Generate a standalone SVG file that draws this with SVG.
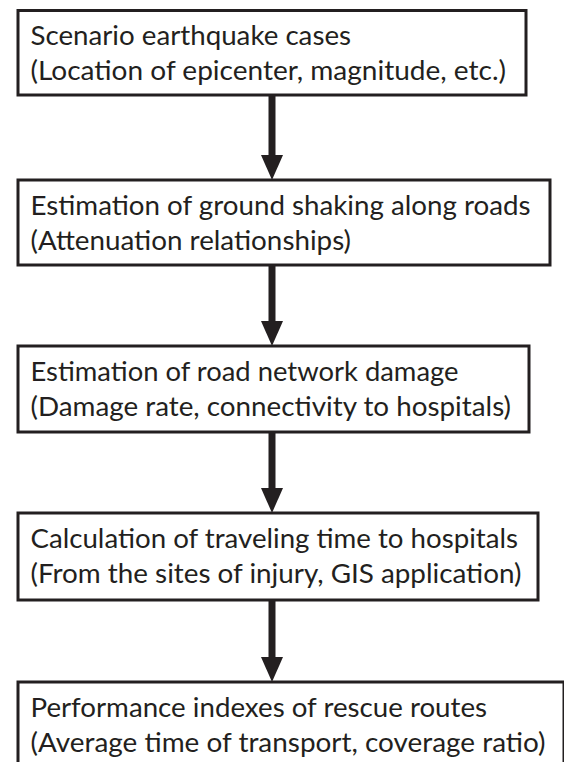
<svg xmlns="http://www.w3.org/2000/svg" width="564" height="762" viewBox="0 0 564 762">
<style>
.box{fill:#fff;stroke:#231f20;stroke-width:3}
.t{font-family:Lato,"Open Sans","Liberation Sans",sans-serif;font-size:26.5px;fill:#231f20}
.shaft{stroke:#231f20;stroke-width:7;fill:none}
.head{fill:#231f20}
</style>
<rect width="564" height="762" fill="#fff"/>
<g id="n1">
<rect class="box" x="18" y="10.5" width="508" height="84.5"/>
<text class="t" x="30.5" y="45" textLength="320.5" lengthAdjust="spacingAndGlyphs">Scenario earthquake cases</text>
<text class="t" x="30.5" y="80" textLength="475.5" lengthAdjust="spacingAndGlyphs">(Location of epicenter, magnitude, etc.)</text>
</g>
<g id="n2">
<rect class="box" x="18" y="180" width="532" height="85"/>
<text class="t" x="30.5" y="215" textLength="500" lengthAdjust="spacingAndGlyphs">Estimation of ground shaking along roads</text>
<text class="t" x="30.5" y="250" textLength="320.5" lengthAdjust="spacingAndGlyphs">(Attenuation relationships)</text>
</g>
<g id="n3">
<rect class="box" x="18" y="346" width="511" height="86"/>
<text class="t" x="30.5" y="381" textLength="428" lengthAdjust="spacingAndGlyphs">Estimation of road network damage</text>
<text class="t" x="30.5" y="416" textLength="480.5" lengthAdjust="spacingAndGlyphs">(Damage rate, connectivity to hospitals)</text>
</g>
<g id="n4">
<rect class="box" x="18" y="513" width="520" height="87"/>
<text class="t" x="30.5" y="548" textLength="487.5" lengthAdjust="spacingAndGlyphs">Calculation of traveling time to hospitals</text>
<text class="t" x="30.5" y="583" textLength="491" lengthAdjust="spacingAndGlyphs">(From the sites of injury, GIS application)</text>
</g>
<g id="n5">
<rect class="box" x="18" y="682" width="546" height="100"/>
<text class="t" x="30.5" y="717" textLength="456.5" lengthAdjust="spacingAndGlyphs">Performance indexes of rescue routes</text>
<text class="t" x="30.5" y="752" textLength="515" lengthAdjust="spacingAndGlyphs">(Average time of transport, coverage ratio)</text>
</g>
<g id="connectors">
<line class="shaft" x1="272" y1="95" x2="272" y2="157"/>
<polygon class="head" points="261,155 283,155 272,180"/>
<line class="shaft" x1="272" y1="265" x2="272" y2="323"/>
<polygon class="head" points="261,321 283,321 272,346"/>
<line class="shaft" x1="272" y1="432" x2="272" y2="490"/>
<polygon class="head" points="261,488 283,488 272,513"/>
<line class="shaft" x1="272" y1="600" x2="272" y2="659"/>
<polygon class="head" points="261,657 283,657 272,682"/>
</g>
</svg>
